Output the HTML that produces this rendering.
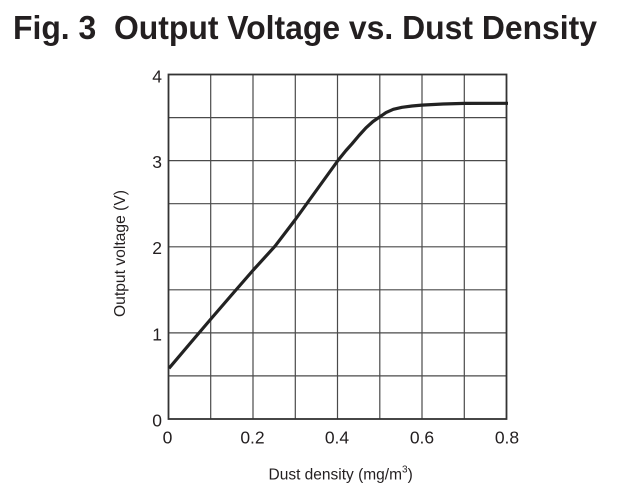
<!DOCTYPE html>
<html>
<head>
<meta charset="utf-8">
<style>
html,body{margin:0;padding:0;background:#fff;}
svg{display:block;}
</style>
</head>
<body>
<svg width="621" height="503" viewBox="0 0 621 503" xmlns="http://www.w3.org/2000/svg">
  <rect width="621" height="503" fill="#fff"/>
  <text x="13" y="39" font-family="Liberation Sans, Arial, sans-serif" font-weight="bold" font-size="33" fill="#231f20" textLength="584" lengthAdjust="spacingAndGlyphs" xml:space="preserve">Fig. 3  Output Voltage vs. Dust Density</text>

  <!-- grid -->
  <g stroke="#4a4a4a" stroke-width="1.2" fill="none">
    <line x1="210.7" y1="74.5" x2="210.7" y2="419"/>
    <line x1="253" y1="74.5" x2="253" y2="419"/>
    <line x1="295.3" y1="74.5" x2="295.3" y2="419"/>
    <line x1="337.5" y1="74.5" x2="337.5" y2="419"/>
    <line x1="379.8" y1="74.5" x2="379.8" y2="419"/>
    <line x1="422" y1="74.5" x2="422" y2="419"/>
    <line x1="464.3" y1="74.5" x2="464.3" y2="419"/>
    <line x1="168.5" y1="117.6" x2="506.5" y2="117.6"/>
    <line x1="168.5" y1="160.6" x2="506.5" y2="160.6"/>
    <line x1="168.5" y1="203.7" x2="506.5" y2="203.7"/>
    <line x1="168.5" y1="246.8" x2="506.5" y2="246.8"/>
    <line x1="168.5" y1="289.8" x2="506.5" y2="289.8"/>
    <line x1="168.5" y1="332.9" x2="506.5" y2="332.9"/>
    <line x1="168.5" y1="375.9" x2="506.5" y2="375.9"/>
  </g>
  <rect x="168.5" y="74.5" width="338" height="344.5" fill="none" stroke="#333" stroke-width="1.8"/>

  <!-- curve -->
  <polyline fill="none" stroke="#222" stroke-width="3.2" stroke-linejoin="round" stroke-linecap="butt"
    points="169,368.3 190,343.5 210,320 232,294.5 253.3,270 275,246.2 295,220 317,189.5 338.3,160 346,150.5 352,143.8 359,135.5 366,127.8 373,121.5 380,116.7 386,112.6 393.3,109.3 402,107.3 412,106 421.7,105.1 443,104 464.7,103.4 508,103.3"/>

  <!-- y tick labels -->
  <g font-family="Liberation Sans, Arial, sans-serif" font-size="17.5" fill="#231f20" text-anchor="end">
    <text x="162" y="82.5">4</text>
    <text x="162" y="168">3</text>
    <text x="162" y="254.2">2</text>
    <text x="162" y="340.3">1</text>
    <text x="162" y="426.5">0</text>
  </g>
  <!-- x tick labels -->
  <g font-family="Liberation Sans, Arial, sans-serif" font-size="17.5" fill="#231f20" text-anchor="middle">
    <text x="167.5" y="443.5">0</text>
    <text x="252.5" y="443.5">0.2</text>
    <text x="337" y="443.5">0.4</text>
    <text x="422" y="443.5">0.6</text>
    <text x="507" y="443.5">0.8</text>
  </g>

  <!-- axis titles -->
  <text x="268.5" y="479.5" font-family="Liberation Sans, Arial, sans-serif" font-size="15.5" fill="#231f20">Dust density (mg/m<tspan font-size="10" dy="-7">3</tspan><tspan dy="7">)</tspan></text>
  <text transform="translate(125,317) rotate(-90)" x="0" y="0" font-family="Liberation Sans, Arial, sans-serif" font-size="15.3" fill="#231f20" textLength="127" lengthAdjust="spacingAndGlyphs">Output voltage (V)</text>
</svg>
</body>
</html>
